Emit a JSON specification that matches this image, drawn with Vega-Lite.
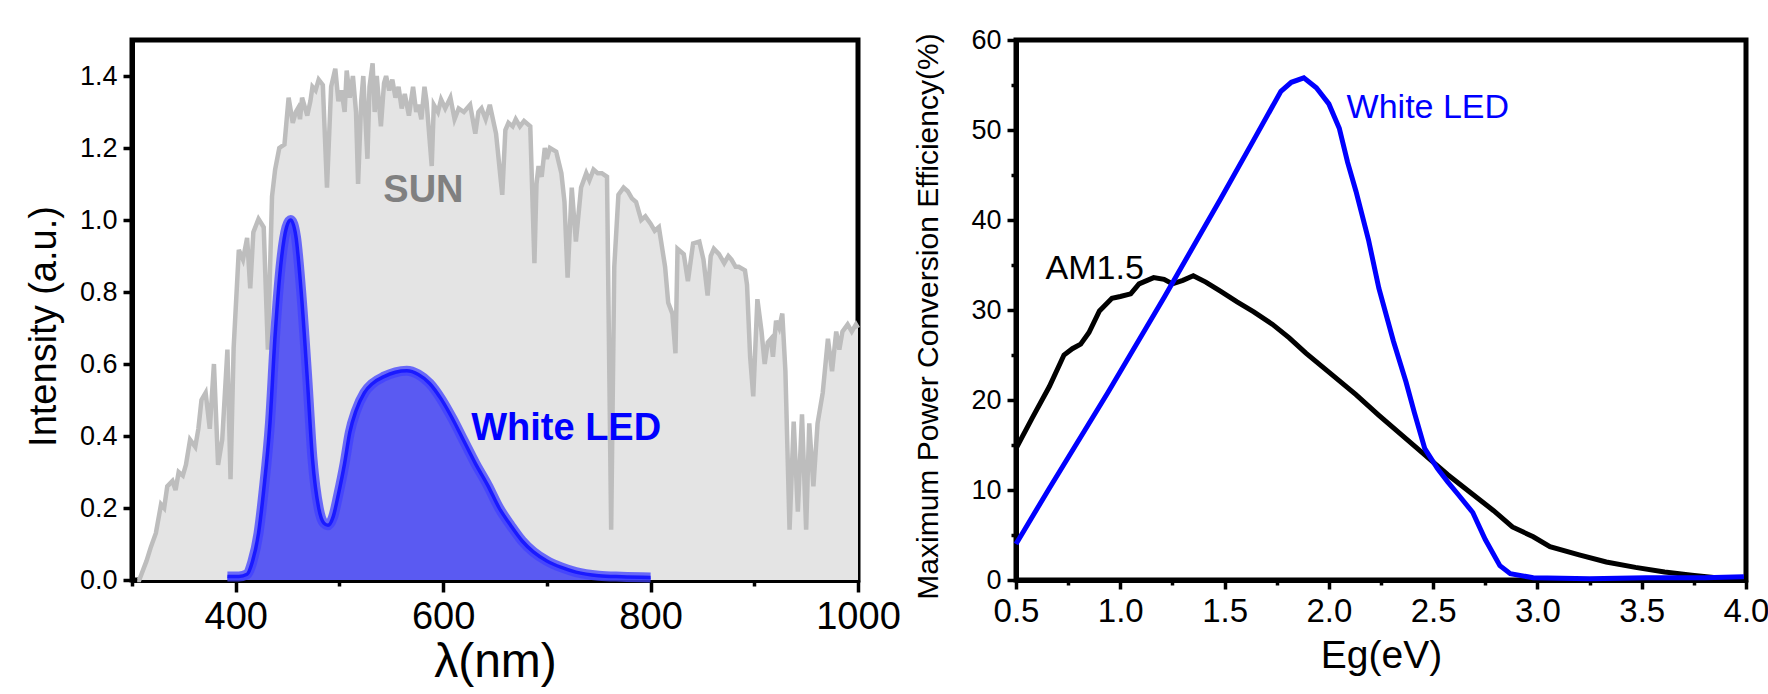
{
  "$schema": "https://vega.github.io/schema/vega-lite/v6.json",
  "autosize": {"type": "pad"},
  "padding": {"left": 22, "top": 23, "right": 5, "bottom": 5},
  "background": "white",
  "bounds": "flush",
  "spacing": 158,
  "config": {
    "view": {"stroke": "black", "strokeWidth": 5},
    "font": "Liberation Sans",
    "axis": {
      "grid": false,
      "domainColor": "black",
      "domainWidth": 5,
      "tickColor": "black",
      "tickWidth": 3.5,
      "labelColor": "black",
      "titleColor": "black",
      "labelFont": "Liberation Sans",
      "titleFont": "Liberation Sans",
      "titleFontWeight": "normal",
      "labelFlush": false,
      "labelOverlap": false
    }
  },
  "datasets": {
    "sun": [
      {"nm": 305, "v": 0.0}, {"nm": 307, "v": 0.0}, {"nm": 314, "v": 0.053}, {"nm": 318, "v": 0.09}, {"nm": 323, "v": 0.13}, {"nm": 328, "v": 0.21},
      {"nm": 331, "v": 0.20}, {"nm": 334, "v": 0.26}, {"nm": 339, "v": 0.275}, {"nm": 342, "v": 0.25}, {"nm": 345, "v": 0.30}, {"nm": 349, "v": 0.29}, {"nm": 352, "v": 0.32}, {"nm": 356, "v": 0.39},
      {"nm": 361, "v": 0.37}, {"nm": 364, "v": 0.42}, {"nm": 367, "v": 0.50}, {"nm": 371, "v": 0.52}, {"nm": 375, "v": 0.42}, {"nm": 379, "v": 0.60},
      {"nm": 383, "v": 0.32}, {"nm": 387, "v": 0.39}, {"nm": 392, "v": 0.64}, {"nm": 395, "v": 0.28}, {"nm": 398, "v": 0.645},
      {"nm": 403, "v": 0.917}, {"nm": 407, "v": 0.89}, {"nm": 411, "v": 0.95}, {"nm": 414, "v": 0.81}, {"nm": 417, "v": 0.966},
      {"nm": 422, "v": 1.003}, {"nm": 427, "v": 0.98}, {"nm": 431, "v": 0.64}, {"nm": 435, "v": 1.065}, {"nm": 438, "v": 1.14},
      {"nm": 442, "v": 1.20}, {"nm": 447, "v": 1.21}, {"nm": 451, "v": 1.34}, {"nm": 455, "v": 1.27}, {"nm": 458, "v": 1.30}, {"nm": 460, "v": 1.31},
      {"nm": 462, "v": 1.28}, {"nm": 464, "v": 1.34}, {"nm": 469, "v": 1.29}, {"nm": 472, "v": 1.33}, {"nm": 474, "v": 1.37}, {"nm": 477, "v": 1.36}, {"nm": 480, "v": 1.39}, {"nm": 484, "v": 1.375},
      {"nm": 488, "v": 1.09}, {"nm": 492, "v": 1.37}, {"nm": 496, "v": 1.42}, {"nm": 499, "v": 1.33}, {"nm": 502, "v": 1.36}, {"nm": 505, "v": 1.30}, {"nm": 507, "v": 1.415},
      {"nm": 510, "v": 1.34}, {"nm": 513, "v": 1.40}, {"nm": 516, "v": 1.30}, {"nm": 518, "v": 1.10}, {"nm": 521, "v": 1.33}, {"nm": 523, "v": 1.40}, {"nm": 527, "v": 1.17}, {"nm": 529, "v": 1.37}, {"nm": 532, "v": 1.435},
      {"nm": 534, "v": 1.30}, {"nm": 536, "v": 1.40}, {"nm": 538, "v": 1.33}, {"nm": 540, "v": 1.26}, {"nm": 543, "v": 1.38}, {"nm": 545, "v": 1.40}, {"nm": 548, "v": 1.36}, {"nm": 551, "v": 1.39}, {"nm": 554, "v": 1.34}, {"nm": 557, "v": 1.37},
      {"nm": 560, "v": 1.31}, {"nm": 563, "v": 1.35}, {"nm": 567, "v": 1.29}, {"nm": 571, "v": 1.37}, {"nm": 574, "v": 1.30}, {"nm": 576, "v": 1.32}, {"nm": 579, "v": 1.28}, {"nm": 582, "v": 1.37},
      {"nm": 584, "v": 1.33}, {"nm": 589, "v": 1.15}, {"nm": 591, "v": 1.32}, {"nm": 595, "v": 1.30}, {"nm": 598, "v": 1.335}, {"nm": 602, "v": 1.31}, {"nm": 607, "v": 1.34}, {"nm": 611, "v": 1.28}, {"nm": 615, "v": 1.31},
      {"nm": 620, "v": 1.30}, {"nm": 626, "v": 1.32}, {"nm": 631, "v": 1.24}, {"nm": 634, "v": 1.30}, {"nm": 637, "v": 1.31}, {"nm": 641, "v": 1.28}, {"nm": 645, "v": 1.32},
      {"nm": 648, "v": 1.28}, {"nm": 651, "v": 1.24}, {"nm": 657, "v": 1.07}, {"nm": 660, "v": 1.25}, {"nm": 663, "v": 1.27}, {"nm": 667, "v": 1.26}, {"nm": 670, "v": 1.28}, {"nm": 674, "v": 1.26}, {"nm": 678, "v": 1.275},
      {"nm": 684, "v": 1.26}, {"nm": 688, "v": 0.88}, {"nm": 690, "v": 1.10}, {"nm": 692, "v": 1.15}, {"nm": 695, "v": 1.12}, {"nm": 698, "v": 1.20}, {"nm": 700, "v": 1.17}, {"nm": 703, "v": 1.20},
      {"nm": 709, "v": 1.19}, {"nm": 714, "v": 1.13}, {"nm": 717, "v": 1.05}, {"nm": 720, "v": 0.84}, {"nm": 724, "v": 1.09}, {"nm": 728, "v": 0.94},
      {"nm": 733, "v": 1.09}, {"nm": 738, "v": 1.13}, {"nm": 741, "v": 1.11}, {"nm": 745, "v": 1.14}, {"nm": 749, "v": 1.13}, {"nm": 753, "v": 1.13}, {"nm": 758, "v": 1.12},
      {"nm": 762, "v": 0.14}, {"nm": 765, "v": 0.87}, {"nm": 769, "v": 1.07}, {"nm": 774, "v": 1.09}, {"nm": 778, "v": 1.08}, {"nm": 782, "v": 1.06}, {"nm": 786, "v": 1.05},
      {"nm": 791, "v": 1.00}, {"nm": 795, "v": 1.01}, {"nm": 800, "v": 0.99}, {"nm": 804, "v": 0.97}, {"nm": 808, "v": 0.98}, {"nm": 814, "v": 0.87}, {"nm": 817, "v": 0.77},
      {"nm": 821, "v": 0.74}, {"nm": 824, "v": 0.63}, {"nm": 826, "v": 0.92}, {"nm": 832, "v": 0.905}, {"nm": 836, "v": 0.83},
      {"nm": 841, "v": 0.935}, {"nm": 847, "v": 0.94}, {"nm": 851, "v": 0.89}, {"nm": 855, "v": 0.79}, {"nm": 858, "v": 0.90}, {"nm": 861, "v": 0.92},
      {"nm": 866, "v": 0.905}, {"nm": 871, "v": 0.88}, {"nm": 875, "v": 0.90}, {"nm": 878, "v": 0.89}, {"nm": 882, "v": 0.87}, {"nm": 885, "v": 0.87}, {"nm": 891, "v": 0.86},
      {"nm": 893, "v": 0.82}, {"nm": 896, "v": 0.62}, {"nm": 899, "v": 0.51}, {"nm": 903, "v": 0.78}, {"nm": 907, "v": 0.69},
      {"nm": 910, "v": 0.60}, {"nm": 913, "v": 0.66}, {"nm": 916, "v": 0.67}, {"nm": 918, "v": 0.62}, {"nm": 921, "v": 0.72}, {"nm": 924, "v": 0.70}, {"nm": 927, "v": 0.74}, {"nm": 930, "v": 0.58},
      {"nm": 934, "v": 0.14}, {"nm": 938, "v": 0.44}, {"nm": 942, "v": 0.19}, {"nm": 946, "v": 0.46}, {"nm": 950, "v": 0.14},
      {"nm": 953, "v": 0.435}, {"nm": 957, "v": 0.26}, {"nm": 961, "v": 0.435}, {"nm": 966, "v": 0.52}, {"nm": 971, "v": 0.67},
      {"nm": 975, "v": 0.58}, {"nm": 979, "v": 0.69}, {"nm": 982, "v": 0.64}, {"nm": 985, "v": 0.69}, {"nm": 990, "v": 0.71}, {"nm": 994, "v": 0.69}, {"nm": 998, "v": 0.71},
      {"nm": 1000, "v": 0.70}
    ],
    "led": [
      {"nm": 392, "v": 0.01}, {"nm": 403, "v": 0.01}, {"nm": 411, "v": 0.016}, {"nm": 416, "v": 0.05}, {"nm": 422, "v": 0.13},
      {"nm": 427, "v": 0.25}, {"nm": 433, "v": 0.435}, {"nm": 438, "v": 0.68}, {"nm": 444, "v": 0.89}, {"nm": 449, "v": 0.98},
      {"nm": 453, "v": 1.0}, {"nm": 458, "v": 0.955}, {"nm": 463, "v": 0.805}, {"nm": 469, "v": 0.56}, {"nm": 474, "v": 0.337},
      {"nm": 480, "v": 0.20}, {"nm": 485, "v": 0.158}, {"nm": 489, "v": 0.152}, {"nm": 494, "v": 0.176}, {"nm": 499, "v": 0.238},
      {"nm": 505, "v": 0.324}, {"nm": 510, "v": 0.41}, {"nm": 516, "v": 0.47}, {"nm": 524, "v": 0.52}, {"nm": 532, "v": 0.546},
      {"nm": 543, "v": 0.565}, {"nm": 554, "v": 0.577}, {"nm": 565, "v": 0.581}, {"nm": 576, "v": 0.571}, {"nm": 587, "v": 0.546},
      {"nm": 598, "v": 0.503}, {"nm": 609, "v": 0.448}, {"nm": 620, "v": 0.386}, {"nm": 631, "v": 0.324}, {"nm": 643, "v": 0.263},
      {"nm": 654, "v": 0.20}, {"nm": 665, "v": 0.152}, {"nm": 676, "v": 0.109}, {"nm": 687, "v": 0.078}, {"nm": 700, "v": 0.053},
      {"nm": 714, "v": 0.035}, {"nm": 728, "v": 0.022}, {"nm": 750, "v": 0.012}, {"nm": 772, "v": 0.009}, {"nm": 800, "v": 0.007}
    ],
    "sunText": [{"nm": 581, "v": 1.08, "label": "SUN"}],
    "ledText": [{"nm": 627, "v": 0.42, "label": "White LED"}],
    "am15": [
      {"eg": 0.5, "eff": 14.6}, {"eg": 0.58, "eff": 18.1}, {"eg": 0.66, "eff": 21.5}, {"eg": 0.73, "eff": 25.0}, {"eg": 0.77, "eff": 25.7},
      {"eg": 0.81, "eff": 26.2}, {"eg": 0.85, "eff": 27.5}, {"eg": 0.90, "eff": 29.9}, {"eg": 0.96, "eff": 31.3}, {"eg": 1.00, "eff": 31.5},
      {"eg": 1.05, "eff": 31.8}, {"eg": 1.09, "eff": 32.9}, {"eg": 1.16, "eff": 33.6}, {"eg": 1.21, "eff": 33.4}, {"eg": 1.25, "eff": 32.9},
      {"eg": 1.30, "eff": 33.3}, {"eg": 1.35, "eff": 33.8}, {"eg": 1.41, "eff": 33.1}, {"eg": 1.48, "eff": 32.1}, {"eg": 1.56, "eff": 30.9},
      {"eg": 1.64, "eff": 29.8}, {"eg": 1.73, "eff": 28.4}, {"eg": 1.81, "eff": 26.9}, {"eg": 1.89, "eff": 25.2}, {"eg": 2.00, "eff": 23.1},
      {"eg": 2.13, "eff": 20.6}, {"eg": 2.24, "eff": 18.3}, {"eg": 2.35, "eff": 16.1}, {"eg": 2.46, "eff": 13.9}, {"eg": 2.57, "eff": 11.7},
      {"eg": 2.68, "eff": 9.7}, {"eg": 2.79, "eff": 7.7}, {"eg": 2.88, "eff": 5.9}, {"eg": 2.98, "eff": 4.8}, {"eg": 3.06, "eff": 3.7},
      {"eg": 3.20, "eff": 2.8}, {"eg": 3.33, "eff": 2.0}, {"eg": 3.47, "eff": 1.4}, {"eg": 3.61, "eff": 0.9}, {"eg": 3.74, "eff": 0.54},
      {"eg": 3.88, "eff": 0.2}, {"eg": 3.99, "eff": 0.1}
    ],
    "ledEff": [
      {"eg": 0.5, "eff": 4.0}, {"eg": 0.66, "eff": 10.2}, {"eg": 0.94, "eff": 20.8}, {"eg": 1.21, "eff": 31.4}, {"eg": 1.48, "eff": 42.3},
      {"eg": 1.64, "eff": 48.9}, {"eg": 1.77, "eff": 54.3}, {"eg": 1.82, "eff": 55.3}, {"eg": 1.88, "eff": 55.8}, {"eg": 1.94, "eff": 54.7},
      {"eg": 2.00, "eff": 52.9}, {"eg": 2.05, "eff": 50.2}, {"eg": 2.09, "eff": 46.4}, {"eg": 2.13, "eff": 43.2}, {"eg": 2.19, "eff": 37.8},
      {"eg": 2.24, "eff": 32.4}, {"eg": 2.31, "eff": 26.5}, {"eg": 2.37, "eff": 22.0}, {"eg": 2.41, "eff": 18.6}, {"eg": 2.46, "eff": 14.6},
      {"eg": 2.52, "eff": 12.4}, {"eg": 2.57, "eff": 10.9}, {"eg": 2.62, "eff": 9.5}, {"eg": 2.69, "eff": 7.5}, {"eg": 2.75, "eff": 4.5},
      {"eg": 2.82, "eff": 1.6}, {"eg": 2.87, "eff": 0.7}, {"eg": 2.98, "eff": 0.25}, {"eg": 3.25, "eff": 0.15}, {"eg": 3.52, "eff": 0.25},
      {"eg": 3.80, "eff": 0.25}, {"eg": 3.99, "eff": 0.35}
    ],
    "ledEffText": [{"eg": 2.085, "eff": 52.4, "label": "White LED"}],
    "amText": [{"eg": 0.642, "eff": 34.6, "label": "AM1.5"}]
  },
  "hconcat": [
    {
      "width": 726,
      "height": 540,
      "layer": [
        {
          "data": {"name": "sun"},
          "mark": {"type": "area", "color": "#e4e4e4"},
          "encoding": {
            "x": {
              "field": "nm", "type": "quantitative",
              "scale": {"domain": [300, 1000], "nice": false, "zero": false},
              "axis": {
                "title": "λ(nm)",
                "values": [300, 400, 500, 600, 700, 800, 900, 1000],
                "labelExpr": "datum.value % 200 == 0 ? datum.label : ''",
                "format": "d",
                "labelFontSize": 38,
                "labelPadding": 6,
                "tickSize": {"condition": {"test": "datum.value % 200 == 0", "value": 12}, "value": 6},
                "titleFontSize": 48,
                "titleBaseline": "middle",
                "titleY": 82
              }
            },
            "y": {
              "field": "v", "type": "quantitative",
              "scale": {"domain": [0, 1.5], "nice": false},
              "axis": {
                "title": "Intensity (a.u.)",
                "values": [0, 0.1, 0.2, 0.3, 0.4, 0.5, 0.6, 0.7, 0.8, 0.9, 1.0, 1.1, 1.2, 1.3, 1.4],
                "format": ".1f",
                "labelExpr": "round(datum.value*10) % 2 == 0 ? datum.label : ''",
                "labelFontSize": 27,
                "labelPadding": 6,
                "tickSize": {"condition": {"test": "round(datum.value*10) % 2 == 0", "value": 9}, "value": 5},
                "titleFontSize": 38,
                "titleBaseline": "middle",
                "titleX": -88,
                "titleY": 286
              }
            }
          }
        },
        {
          "data": {"name": "sun"},
          "mark": {"type": "line", "color": "#bdbdbd", "strokeWidth": 4.5},
          "encoding": {"x": {"field": "nm", "type": "quantitative"}, "y": {"field": "v", "type": "quantitative"}}
        },
        {
          "data": {"name": "led"},
          "mark": {"type": "area", "color": "#5a5af2", "interpolate": "monotone"},
          "encoding": {"x": {"field": "nm", "type": "quantitative"}, "y": {"field": "v", "type": "quantitative"}}
        },
        {
          "data": {"name": "led"},
          "mark": {"type": "line", "color": "#4040ff", "strokeWidth": 10, "opacity": 0.75, "interpolate": "monotone"},
          "encoding": {"x": {"field": "nm", "type": "quantitative"}, "y": {"field": "v", "type": "quantitative"}}
        },
        {
          "data": {"name": "led"},
          "mark": {"type": "line", "color": "#1a1aff", "strokeWidth": 3.5, "interpolate": "monotone"},
          "encoding": {"x": {"field": "nm", "type": "quantitative"}, "y": {"field": "v", "type": "quantitative"}}
        },
        {
          "data": {"name": "sunText"},
          "mark": {"type": "text", "fontWeight": "bold", "fontSize": 38, "baseline": "middle", "align": "center", "color": "#808080"},
          "encoding": {"x": {"field": "nm", "type": "quantitative"}, "y": {"field": "v", "type": "quantitative"}, "text": {"field": "label"}}
        },
        {
          "data": {"name": "ledText"},
          "mark": {"type": "text", "fontWeight": "bold", "fontSize": 38, "baseline": "middle", "align": "left", "color": "#0000ff"},
          "encoding": {"x": {"field": "nm", "type": "quantitative"}, "y": {"field": "v", "type": "quantitative"}, "text": {"field": "label"}}
        }
      ]
    },
    {
      "width": 730,
      "height": 540,
      "layer": [
        {
          "data": {"name": "am15"},
          "mark": {"type": "line", "color": "black", "strokeWidth": 5},
          "encoding": {
            "x": {
              "field": "eg", "type": "quantitative",
              "scale": {"domain": [0.5, 4.0], "nice": false, "zero": false},
              "axis": {
                "title": "Eg(eV)",
                "values": [0.5, 0.75, 1.0, 1.25, 1.5, 1.75, 2.0, 2.25, 2.5, 2.75, 3.0, 3.25, 3.5, 3.75, 4.0],
                "labelExpr": "round(datum.value*4) % 2 == 0 ? format(datum.value, '.1f') : ''",
                "labelFontSize": 33,
                "labelPadding": 6,
                "tickSize": {"condition": {"test": "round(datum.value*4) % 2 == 0", "value": 9}, "value": 5},
                "titleFontSize": 39,
                "titleBaseline": "middle",
                "titleY": 75
              }
            },
            "y": {
              "field": "eff", "type": "quantitative",
              "scale": {"domain": [0, 60], "nice": false},
              "axis": {
                "title": "Maximum Power Conversion Efficiency(%)",
                "values": [0, 5, 10, 15, 20, 25, 30, 35, 40, 45, 50, 55, 60],
                "labelExpr": "datum.value % 10 == 0 ? datum.label : ''",
                "labelFontSize": 27,
                "labelPadding": 6,
                "tickSize": {"condition": {"test": "datum.value % 10 == 0", "value": 9}, "value": 5},
                "titleFontSize": 30,
                "titleBaseline": "middle",
                "titleX": -88,
                "titleY": 276
              }
            }
          }
        },
        {
          "data": {"name": "ledEff"},
          "mark": {"type": "line", "color": "#0000ff", "strokeWidth": 5},
          "encoding": {"x": {"field": "eg", "type": "quantitative"}, "y": {"field": "eff", "type": "quantitative"}}
        },
        {
          "data": {"name": "ledEffText"},
          "mark": {"type": "text", "fontSize": 34, "baseline": "middle", "align": "left", "color": "#0000ff"},
          "encoding": {"x": {"field": "eg", "type": "quantitative"}, "y": {"field": "eff", "type": "quantitative"}, "text": {"field": "label"}}
        },
        {
          "data": {"name": "amText"},
          "mark": {"type": "text", "fontSize": 34, "baseline": "middle", "align": "left", "color": "black"},
          "encoding": {"x": {"field": "eg", "type": "quantitative"}, "y": {"field": "eff", "type": "quantitative"}, "text": {"field": "label"}}
        }
      ]
    }
  ]
}
